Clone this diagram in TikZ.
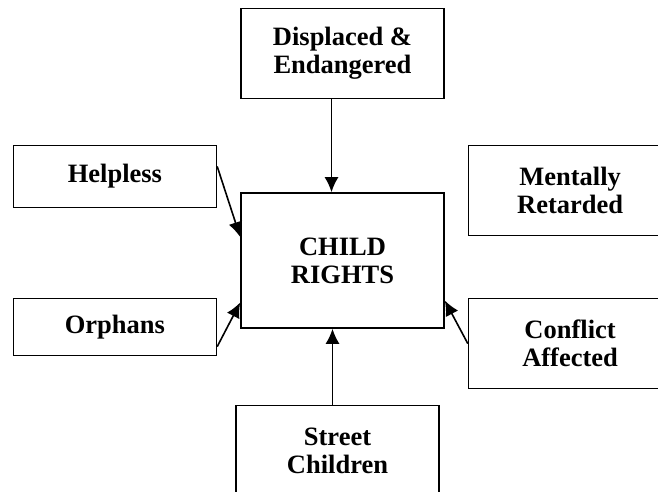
\documentclass[tikz,border=0pt]{standalone}
\usepackage{fontspec}
\setmainfont{Liberation Serif}
\usepackage{tikz}
\usetikzlibrary{arrows,arrows.meta,positioning}
\tikzset{>={Latex[length=15pt,width=14pt]},
	every join/.style={->}}

\begin{document}
\begin{tikzpicture}[x=1pt,y=1pt]
	\tikzset{box/.style={draw, line width=1.6pt, shape=rectangle, align=center, minimum width=203pt, minimum height=90pt,
			font=\fontsize{26.5}{28}\selectfont\bfseries},
		link/.style={->, line width=1.6pt},
	}
	\useasboundingbox (0,0) rectangle (658,491);
	\node [box, minimum height=135pt] at (342.5,230.5) (child) {CHILD\\RIGHTS};
	\node [box, above = 93pt of child] (disp) {Displaced \&\\Endangered};
	\node [box, below = 76pt of child, xshift=-5pt] (street) {Street\\Children};
	\node [box, minimum height=62pt, above left = -16pt and 23pt of child] (help) {Helpless};
	\node [box, minimum height=57pt, below left = -31pt and 23pt of child] (orph) {Orphans};
	\node [box, above right = -44pt and 23pt of child] (ment) {Mentally\\Retarded};
	\node [box, below right = -31pt and 23pt of child] (conf) {Conflict\\Affected};
	% arrows into the centre
	\draw [link] ([xshift=-11pt]disp.south) -- ([xshift=-11pt]disp.south |- child.north);
	\draw [link] ([xshift=-5pt]street.north) -- ([xshift=-5pt]street.north |- child.south);
	\draw [link] ([yshift=10pt]help.east) -- ([yshift=23.5pt]child.west);
	\draw [link] ([yshift=-19.5pt]orph.east) -- ([yshift=-42pt]child.west);
	\draw [link] (conf.west) -- ([yshift=-40pt]child.east);
\end{tikzpicture}
\end{document}
